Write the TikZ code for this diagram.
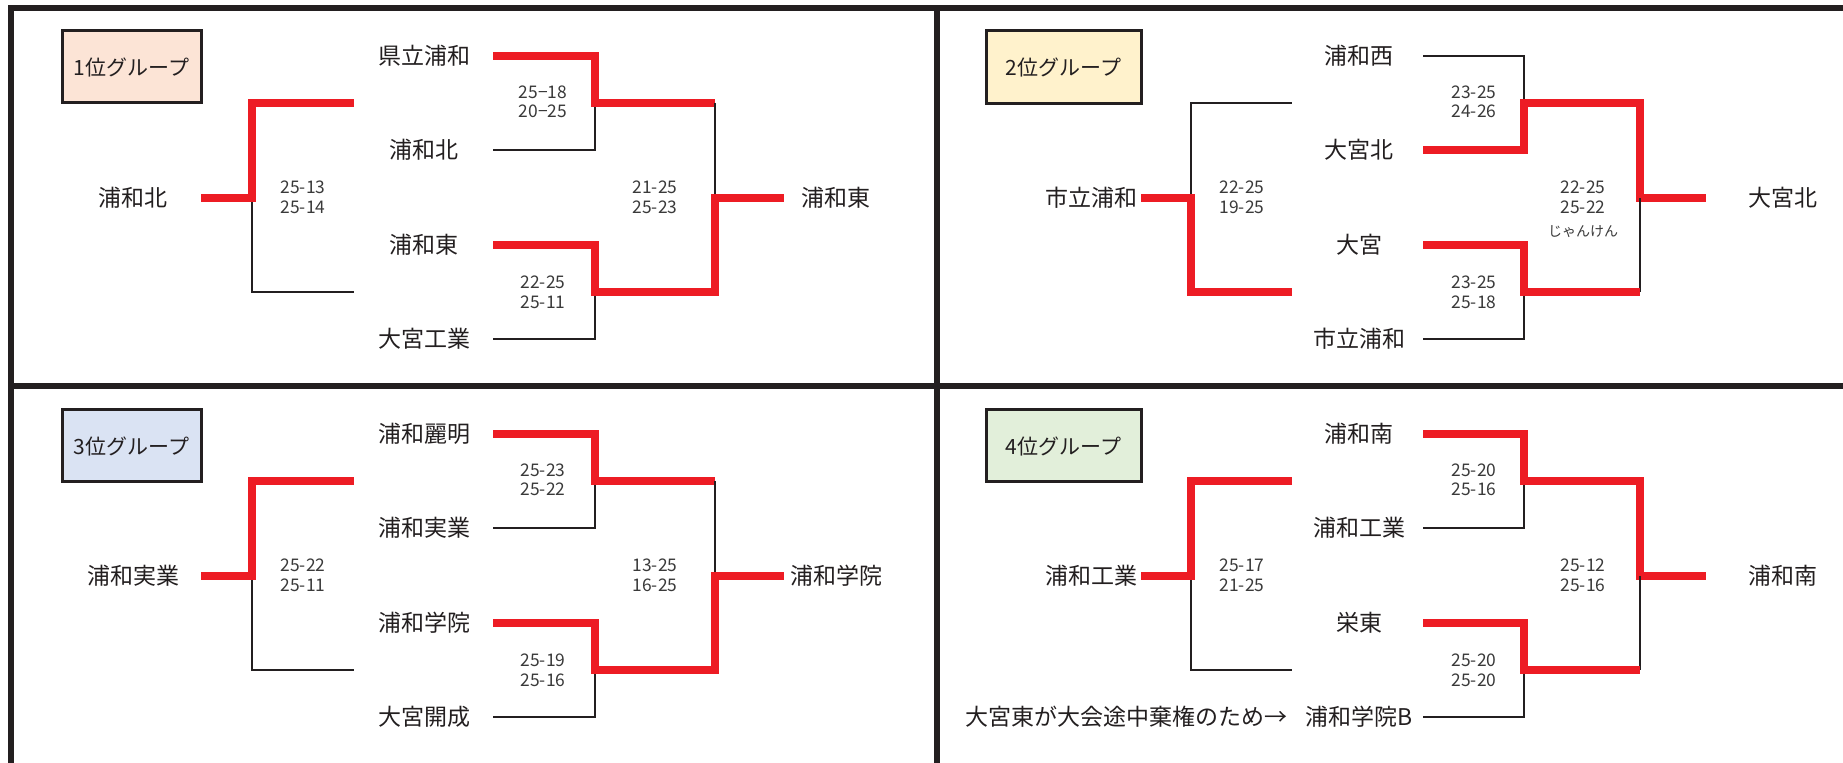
\documentclass[tikz,border=0pt]{standalone}
\usepackage{fontspec}
\setmainfont{Noto Sans CJK JP}
\definecolor{redl}{HTML}{ED1C24}
\definecolor{ink}{HTML}{231F20}
\definecolor{sc}{HTML}{3A3A3A}
\definecolor{gA}{HTML}{FCE4D6}
\definecolor{gB}{HTML}{FFF2CC}
\definecolor{gC}{HTML}{DAE3F3}
\definecolor{gD}{HTML}{E2EFDA}
\newcommand\cp[3]{\coordinate (#1) at (#2,#3);}
% bracket layout of the left column (groups 1 and 3)
\newcommand\leftbracket[2]{%
  \cp{#1L0}{201}{198+#2}\cp{#1L1}{252}{198+#2}\cp{#1L2}{252}{103+#2}\cp{#1L3}{354}{103+#2}
  \cp{#1L4}{252}{292+#2}\cp{#1L5}{354}{292+#2}
  \cp{#1a0}{493}{56+#2}\cp{#1a1}{595}{56+#2}\cp{#1a2}{595}{103+#2}\cp{#1a3}{493}{150+#2}\cp{#1a4}{595}{150+#2}
  \cp{#1b0}{493}{245+#2}\cp{#1b1}{595}{245+#2}\cp{#1b2}{595}{292+#2}\cp{#1b3}{493}{339+#2}\cp{#1b4}{595}{339+#2}
  \cp{#1f0}{715}{103+#2}\cp{#1f1}{715}{198+#2}\cp{#1f2}{715}{292+#2}\cp{#1f3}{784}{198+#2}
  \draw[lose] (#1L1) -- (#1L4) -- (#1L5);
  \draw[win] (#1L0) -- (#1L1) -- (#1L2) -- (#1L3);
  \draw[lose] (#1a3) -- (#1a4) -- (#1a2);
  \draw[win] (#1a0) -- (#1a1) -- (#1a2) -- (#1f0);
  \draw[lose] (#1b3) -- (#1b4) -- (#1b2);
  \draw[lose] (#1f0) -- (#1f1);
  \draw[win] (#1b0) -- (#1b1) -- (#1b2) -- (#1f2) -- (#1f1) -- (#1f3);
}
% coordinates of the right column (groups 2 and 4)
\newcommand\rightcoords[2]{%
  \cp{#1L0}{1141}{198+#2}\cp{#1L1}{1191}{198+#2}\cp{#1L2}{1191}{103+#2}\cp{#1L3}{1292}{103+#2}
  \cp{#1L4}{1191}{292+#2}\cp{#1L5}{1292}{292+#2}
  \cp{#1a0}{1423}{56+#2}\cp{#1a1}{1524}{56+#2}\cp{#1a2}{1524}{103+#2}\cp{#1a3}{1423}{150+#2}\cp{#1a4}{1524}{150+#2}
  \cp{#1b0}{1423}{245+#2}\cp{#1b1}{1524}{245+#2}\cp{#1b2}{1524}{292+#2}\cp{#1b3}{1423}{339+#2}\cp{#1b4}{1524}{339+#2}
  \cp{#1f0}{1640}{103+#2}\cp{#1f1}{1640}{198+#2}\cp{#1f2}{1640}{292+#2}\cp{#1f3}{1706}{198+#2}
}
\begin{document}
\begin{tikzpicture}[x=0.5pt,y=-0.5pt,
  win/.style={draw=redl, line width=4pt, line join=miter},
  lose/.style={draw=ink, line width=1.3pt},
  frame/.style={draw=ink, line width=3pt},
  team/.style={font=\fontsize{11.5}{13}\selectfont, text=ink, inner sep=0pt},
  score/.style={font=\fontsize{8.7}{9.75}\selectfont, text=sc, align=center, inner sep=0pt},
  small/.style={font=\fontsize{7}{8}\selectfont, text=sc, inner sep=0pt},
  gbox/.style={draw=ink, line width=1.5pt, inner sep=0pt, text=ink,
    font=\fontsize{10.5}{12}\selectfont}]
\useasboundingbox (0,0) rectangle (1843,763);
\fill[white] (0,0) rectangle (1843,763);

% frame
\draw[frame, line join=miter] (11,763) -- (11,8) -- (1843,8);
\draw[frame] (937,8) -- (937,763);
\draw[frame] (11,386.5) -- (1843,386.5);

% ---------- group 1 ----------
\node[gbox, fill=gA, minimum width=69.5pt, minimum height=36pt] (g1box) at (131.5,67) {1位グループ};
\leftbracket{g1}{0}
\node[team] (g1t1) at (424,56) {県立浦和};
\node[team] (g1t2) at (424,150) {浦和北};
\node[team] (g1t3) at (424,245) {浦和東};
\node[team] (g1t4) at (424,339) {大宮工業};
\node[team] (g1l) at (133,198) {浦和北};
\node[team] (g1w) at (836,198) {浦和東};
\node[score] (g1s0) at (303,197.5) {25-13\\25-14};
\node[score] (g1sa) at (543,102) {25−18\\20−25};
\node[score] (g1sb) at (543,292.5) {22-25\\25-11};
\node[score] (g1sf) at (655,197.5) {21-25\\25-23};

% ---------- group 3 ----------
\node[gbox, fill=gC, minimum width=69.5pt, minimum height=36pt] (g3box) at (131.5,446) {3位グループ};
\leftbracket{g3}{378}
\node[team] (g3t1) at (424,434) {浦和麗明};
\node[team] (g3t2) at (424,528) {浦和実業};
\node[team] (g3t3) at (424,623) {浦和学院};
\node[team] (g3t4) at (424,717) {大宮開成};
\node[team] (g3l) at (133,576) {浦和実業};
\node[team] (g3w) at (836,576) {浦和学院};
\node[score] (g3s0) at (303,575.5) {25-22\\25-11};
\node[score] (g3sa) at (543,480) {25-23\\25-22};
\node[score] (g3sb) at (543,670.5) {25-19\\25-16};
\node[score] (g3sf) at (655,575.5) {13-25\\16-25};

% ---------- group 2 ----------
\node[gbox, fill=gB, minimum width=77.5pt, minimum height=36.5pt] (g2box) at (1063.5,67.5) {2位グループ};
\rightcoords{g2}{0}
\draw[lose] (g2L1) -- (g2L2) -- (g2L3);
\draw[win] (g2L0) -- (g2L1) -- (g2L4) -- (g2L5);
\draw[lose] (g2a0) -- (g2a1) -- (g2a2);
\draw[win] (g2a3) -- (g2a4) -- (g2a2) -- (g2f0) -- (g2f1) -- (g2f3);
\draw[lose] (g2b3) -- (g2b4) -- (g2b2);
\draw[lose] (g2f2) -- (g2f1);
\draw[win] (g2b0) -- (g2b1) -- (g2b2) -- (g2f2);
\node[team] (g2t1) at (1359,56) {浦和西};
\node[team] (g2t2) at (1359,150) {大宮北};
\node[team] (g2t3) at (1359,245) {大宮};
\node[team] (g2t4) at (1359,339) {市立浦和};
\node[team] (g2l) at (1091,198) {市立浦和};
\node[team] (g2w) at (1783,198) {大宮北};
\node[score] (g2s0) at (1242,197.5) {22-25\\19-25};
\node[score] (g2sa) at (1474,102) {23-25\\24-26};
\node[score] (g2sb) at (1474,292.5) {23-25\\25-18};
\node[score] (g2sf) at (1583,197.5) {22-25\\25-22};
\node[small] (g2j) at (1583,232) {じゃんけん};

% ---------- group 4 ----------
\node[gbox, fill=gD, minimum width=77.5pt, minimum height=36pt] (g4box) at (1063.5,446) {4位グループ};
\rightcoords{g4}{378}
\draw[lose] (g4L1) -- (g4L4) -- (g4L5);
\draw[win] (g4L0) -- (g4L1) -- (g4L2) -- (g4L3);
\draw[lose] (g4a3) -- (g4a4) -- (g4a2);
\draw[win] (g4a0) -- (g4a1) -- (g4a2) -- (g4f0) -- (g4f1) -- (g4f3);
\draw[lose] (g4b3) -- (g4b4) -- (g4b2);
\draw[lose] (g4f2) -- (g4f1);
\draw[win] (g4b0) -- (g4b1) -- (g4b2) -- (g4f2);
\node[team] (g4t1) at (1359,434) {浦和南};
\node[team] (g4t2) at (1359,528) {浦和工業};
\node[team] (g4t3) at (1359,623) {栄東};
\node[team] (g4t4) at (1359,717) {浦和学院B};
\node[team] (g4l) at (1091,576) {浦和工業};
\node[team] (g4w) at (1783,576) {浦和南};
\node[team, anchor=east] (g4note) at (1288,717) {大宮東が大会途中棄権のため→};
\node[score] (g4s0) at (1242,575.5) {25-17\\21-25};
\node[score] (g4sa) at (1474,480) {25-20\\25-16};
\node[score] (g4sb) at (1474,670.5) {25-20\\25-20};
\node[score] (g4sf) at (1583,575.5) {25-12\\25-16};
\end{tikzpicture}
\end{document}
